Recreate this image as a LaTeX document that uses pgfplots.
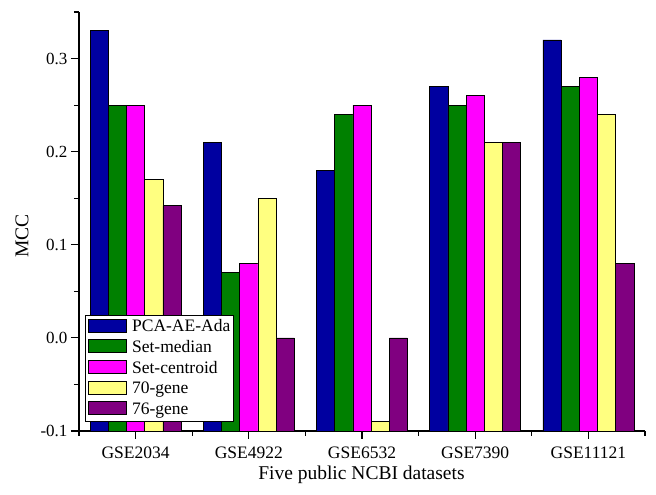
\documentclass[border=0pt]{standalone}
\usepackage{fontspec}
\setmainfont{Liberation Serif}
\usepackage{pgfplots}
\pgfplotsset{compat=1.18}
\definecolor{cA}{HTML}{0000A0}
\definecolor{cB}{HTML}{008000}
\definecolor{cC}{HTML}{FF00FF}
\definecolor{cD}{HTML}{FFFF80}
\definecolor{cE}{HTML}{800080}
\begin{document}
\begin{tikzpicture}
\useasboundingbox (-79pt,-64pt) rectangle (577pt,431pt);
\begin{axis}[
  anchor=south west, at={(0pt,0pt)},
  scale only axis, width=566pt, height=419pt,
  ybar=0pt, bar width=18.2pt,
  xmin=-0.5, xmax=4.5, ymin=-0.1, ymax=0.35,
  y coord trafo/.code={\pgfmathparse{#1+0.1}},
  y coord inv trafo/.code={\pgfmathparse{#1-0.1}},
  axis x line*=bottom, axis y line*=left,
  axis line style={line width=1.2pt},
  tick align=outside,
  major tick length=8pt, minor tick length=5pt,
  every tick/.style={black, line width=1.2pt},
  xtick={0,1,2,3,4},
  xticklabels={GSE2034,GSE4922,GSE6532,GSE7390,GSE11121},
  minor xtick={-0.5,0.5,1.5,2.5,3.5,4.5},
  ytick={-0.1,0,0.1,0.2,0.3},
  minor ytick={-0.05,0.05,0.15,0.25,0.35},
  /pgf/number format/assume math mode=true,
  yticklabel style={/pgf/number format/.cd, fixed, fixed zerofill, precision=1},
  ticklabel style={font=\fontsize{17}{20}\selectfont},
  xticklabel style={font=\fontsize{17.5}{20}\selectfont, yshift=-4pt},
  xlabel={Five public NCBI datasets},
  ylabel={MCC},
  label style={font=\fontsize{19.5}{22}\selectfont},
  xlabel style={at={(axis description cs:0.499,-0.1146)}, anchor=base},
  ylabel style={at={(axis description cs:-0.1007,0.466)}, anchor=center},
  every axis plot/.append style={draw=black, line width=0.7pt},
  legend image code/.code={\draw[#1, draw=black, line width=0.7pt] (0pt,-4.5pt) rectangle (38pt,8.5pt);},
  legend cell align=left,
  legend style={at={(axis description cs:0.0106,0.0215)}, anchor=south west,
    draw=black, line width=0.8pt, inner sep=3pt, row sep=3.6pt,
    column sep=5pt,
    nodes={inner sep=0pt, text height=12.5pt, text depth=4pt},
    font=\fontsize{17.5}{21}\selectfont},
]
\addplot[fill=cA] coordinates {(0,0.33) (1,0.21) (2,0.18) (3,0.27) (4,0.32)};
\addplot[fill=cB] coordinates {(0,0.25) (1,0.07) (2,0.24) (3,0.25) (4,0.27)};
\addplot[fill=cC] coordinates {(0,0.25) (1,0.08) (2,0.25) (3,0.26) (4,0.28)};
\addplot[fill=cD] coordinates {(0,0.17) (1,0.15) (2,-0.09) (3,0.21) (4,0.24)};
\addplot[fill=cE] coordinates {(0,0.142) (1,0.0) (2,0.0) (3,0.21) (4,0.08)};
\legend{PCA-AE-Ada,Set-median,Set-centroid,70-gene,76-gene}
\end{axis}
\end{tikzpicture}
\end{document}
